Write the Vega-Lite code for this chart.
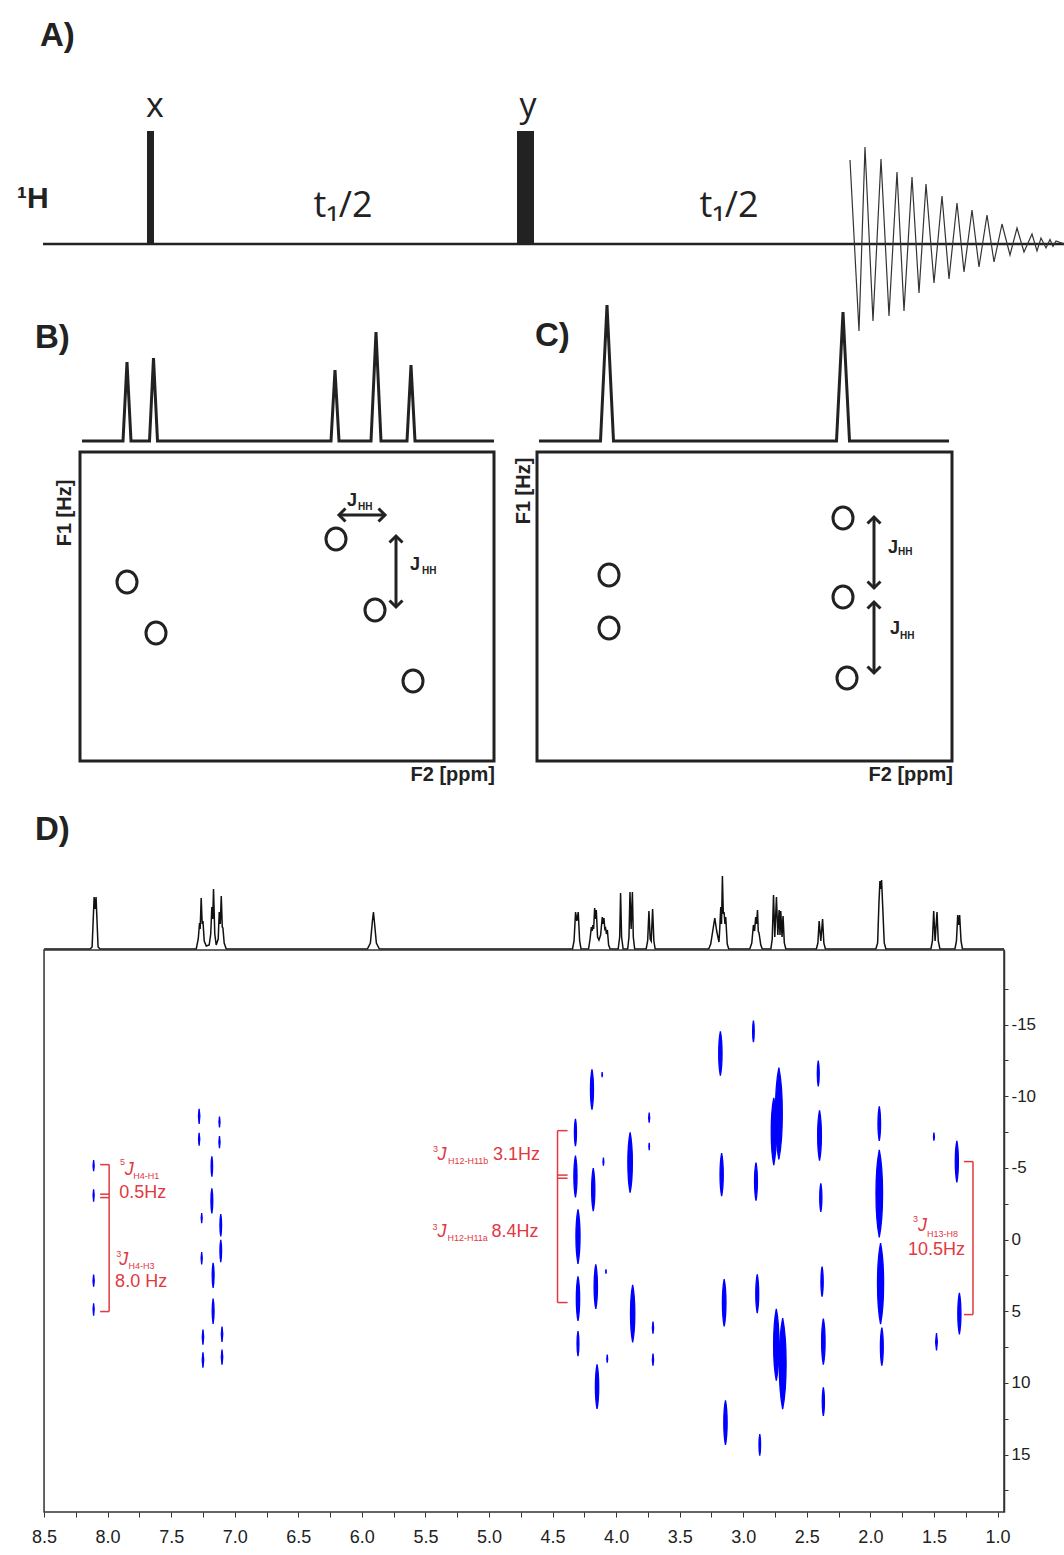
{
"$schema": "https://vega.github.io/schema/vega-lite/v6.json",
"background": "white",
"padding": 0,
"spacing": 0,
"bounds": "flush",
"config": {"view": {"stroke": null}, "font": "Liberation Sans"},
"datasets": {
"aFid": [{"t":85.0,"a":8.4},{"t":85.9,"a":-8.7},{"t":86.5,"a":9.7},{"t":87.3,"a":-7.7},{"t":88.1,"a":8.5},{"t":88.9,"a":-7.2},{"t":89.7,"a":7.2},{"t":90.4,"a":-6.7},{"t":91.2,"a":6.7},{"t":91.9,"a":-4.9},{"t":92.6,"a":6.0},{"t":93.4,"a":-3.9},{"t":94.2,"a":4.8},{"t":94.9,"a":-3.5},{"t":95.7,"a":4.1},{"t":96.4,"a":-2.8},{"t":97.2,"a":3.4},{"t":97.9,"a":-2.3},{"t":98.7,"a":2.9},{"t":99.4,"a":-1.8},{"t":100.2,"a":2.0},{"t":101.0,"a":-1.1},{"t":101.7,"a":1.6},{"t":102.4,"a":-0.8},{"t":103.2,"a":1.0},{"t":103.7,"a":-0.7},{"t":104.1,"a":0.6},{"t":104.6,"a":-0.4},{"t":105.0,"a":0.45},{"t":105.3,"a":-0.24},{"t":105.6,"a":0.3},{"t":106.4,"a":0}],
"bcSpec": [{"u":8.2,"v":35.9,"p":"B"},{"u":12.3,"v":35.9,"p":"B"},{"u":12.7,"v":43.8,"p":"B"},{"u":13.1,"v":35.9,"p":"B"},{"u":14.95,"v":35.9,"p":"B"},{"u":15.35,"v":44.2,"p":"B"},{"u":15.75,"v":35.9,"p":"B"},{"u":33.1,"v":35.9,"p":"B"},{"u":33.5,"v":43.0,"p":"B"},{"u":33.9,"v":35.9,"p":"B"},{"u":37.1,"v":35.9,"p":"B"},{"u":37.6,"v":46.8,"p":"B"},{"u":38.1,"v":35.9,"p":"B"},{"u":40.7,"v":35.9,"p":"B"},{"u":41.1,"v":43.5,"p":"B"},{"u":41.5,"v":35.9,"p":"B"},{"u":49.4,"v":35.9,"p":"B"},
{"u":53.9,"v":35.9,"p":"C"},{"u":60.05,"v":35.9,"p":"C"},{"u":60.7,"v":49.5,"p":"C"},{"u":61.35,"v":35.9,"p":"C"},{"u":83.65,"v":35.9,"p":"C"},{"u":84.3,"v":48.8,"p":"C"},{"u":84.95,"v":35.9,"p":"C"},{"u":94.9,"v":35.9,"p":"C"}],
"dSpec": [{"ppm":8.5,"i":0},{"ppm":8.138,"i":0},{"ppm":8.122,"i":2},{"ppm":8.106,"i":52},{"ppm":8.098,"i":40},{"ppm":8.091,"i":52},{"ppm":8.075,"i":2},{"ppm":8.059,"i":0},{"ppm":7.303,"i":0},{"ppm":7.287,"i":10},{"ppm":7.277,"i":26},{"ppm":7.272,"i":20},{"ppm":7.264,"i":51},{"ppm":7.256,"i":25},{"ppm":7.25,"i":28},{"ppm":7.24,"i":8},{"ppm":7.224,"i":3},{"ppm":7.201,"i":4},{"ppm":7.189,"i":15},{"ppm":7.18,"i":42},{"ppm":7.173,"i":30},{"ppm":7.167,"i":60},{"ppm":7.157,"i":15},{"ppm":7.146,"i":4},{"ppm":7.13,"i":10},{"ppm":7.122,"i":37},{"ppm":7.114,"i":25},{"ppm":7.106,"i":53},{"ppm":7.098,"i":22},{"ppm":7.093,"i":21},{"ppm":7.083,"i":6},{"ppm":7.067,"i":0},{"ppm":5.957,"i":0},{"ppm":5.933,"i":6},{"ppm":5.917,"i":28},{"ppm":5.909,"i":37},{"ppm":5.902,"i":28},{"ppm":5.886,"i":6},{"ppm":5.862,"i":0},{"ppm":4.343,"i":0},{"ppm":4.331,"i":8},{"ppm":4.319,"i":37},{"ppm":4.309,"i":28},{"ppm":4.298,"i":37},{"ppm":4.287,"i":8},{"ppm":4.276,"i":0},{"ppm":4.217,"i":0},{"ppm":4.205,"i":10},{"ppm":4.195,"i":22},{"ppm":4.189,"i":18},{"ppm":4.183,"i":24},{"ppm":4.177,"i":20},{"ppm":4.169,"i":41},{"ppm":4.163,"i":30},{"ppm":4.156,"i":39},{"ppm":4.146,"i":12},{"ppm":4.135,"i":9},{"ppm":4.122,"i":14},{"ppm":4.109,"i":32},{"ppm":4.102,"i":25},{"ppm":4.096,"i":31},{"ppm":4.089,"i":20},{"ppm":4.083,"i":21},{"ppm":4.076,"i":15},{"ppm":4.069,"i":19},{"ppm":4.059,"i":4},{"ppm":4.047,"i":0},{"ppm":3.984,"i":0},{"ppm":3.972,"i":12},{"ppm":3.965,"i":56},{"ppm":3.957,"i":12},{"ppm":3.945,"i":0},{"ppm":3.909,"i":0},{"ppm":3.899,"i":12},{"ppm":3.891,"i":57},{"ppm":3.882,"i":20},{"ppm":3.872,"i":57},{"ppm":3.865,"i":12},{"ppm":3.854,"i":0},{"ppm":3.764,"i":0},{"ppm":3.752,"i":8},{"ppm":3.742,"i":38},{"ppm":3.732,"i":10},{"ppm":3.724,"i":8},{"ppm":3.713,"i":40},{"ppm":3.703,"i":8},{"ppm":3.693,"i":0},{"ppm":3.272,"i":0},{"ppm":3.256,"i":5},{"ppm":3.24,"i":18},{"ppm":3.224,"i":31},{"ppm":3.209,"i":18},{"ppm":3.191,"i":7},{"ppm":3.185,"i":20},{"ppm":3.177,"i":42},{"ppm":3.171,"i":25},{"ppm":3.164,"i":73},{"ppm":3.157,"i":35},{"ppm":3.151,"i":37},{"ppm":3.144,"i":25},{"ppm":3.138,"i":32},{"ppm":3.126,"i":5},{"ppm":3.114,"i":0},{"ppm":2.949,"i":0},{"ppm":2.933,"i":6},{"ppm":2.92,"i":24},{"ppm":2.911,"i":18},{"ppm":2.902,"i":32},{"ppm":2.895,"i":25},{"ppm":2.888,"i":39},{"ppm":2.882,"i":18},{"ppm":2.876,"i":16},{"ppm":2.862,"i":4},{"ppm":2.85,"i":0},{"ppm":2.783,"i":0},{"ppm":2.772,"i":10},{"ppm":2.762,"i":54},{"ppm":2.752,"i":12},{"ppm":2.739,"i":52},{"ppm":2.728,"i":14},{"ppm":2.718,"i":39},{"ppm":2.711,"i":14},{"ppm":2.705,"i":38},{"ppm":2.695,"i":12},{"ppm":2.687,"i":33},{"ppm":2.677,"i":6},{"ppm":2.665,"i":0},{"ppm":2.425,"i":0},{"ppm":2.413,"i":6},{"ppm":2.403,"i":28},{"ppm":2.39,"i":8},{"ppm":2.376,"i":30},{"ppm":2.366,"i":6},{"ppm":2.354,"i":0},{"ppm":1.957,"i":0},{"ppm":1.943,"i":6},{"ppm":1.933,"i":45},{"ppm":1.925,"i":68},{"ppm":1.919,"i":60},{"ppm":1.912,"i":69},{"ppm":1.904,"i":45},{"ppm":1.891,"i":6},{"ppm":1.878,"i":0},{"ppm":1.524,"i":0},{"ppm":1.512,"i":8},{"ppm":1.502,"i":38},{"ppm":1.491,"i":8},{"ppm":1.476,"i":37},{"ppm":1.466,"i":8},{"ppm":1.453,"i":0},{"ppm":1.335,"i":0},{"ppm":1.323,"i":8},{"ppm":1.313,"i":34},{"ppm":1.306,"i":24},{"ppm":1.298,"i":34},{"ppm":1.287,"i":8},{"ppm":1.276,"i":0},{"ppm":0.949,"i":0}],
"dPeaks": [{"ppm":8.11,"hz":-5.16,"len":0.75},{"ppm":8.11,"hz":-3.07,"len":0.85},{"ppm":8.11,"hz":2.86,"len":0.85},{"ppm":8.11,"hz":4.88,"len":0.85},
{"ppm":7.28,"hz":-8.6,"len":1.05},{"ppm":7.28,"hz":-7.0,"len":0.9},{"ppm":7.12,"hz":-8.2,"len":0.75},{"ppm":7.12,"hz":-6.8,"len":0.85},{"ppm":7.18,"hz":-5.1,"len":1.4},{"ppm":7.18,"hz":-2.7,"len":1.75},{"ppm":7.26,"hz":-1.5,"len":0.7},{"ppm":7.11,"hz":-1.0,"len":1.55},{"ppm":7.11,"hz":0.8,"len":1.55},{"ppm":7.26,"hz":1.3,"len":0.85},{"ppm":7.17,"hz":2.5,"len":1.75},{"ppm":7.17,"hz":5.0,"len":1.75},{"ppm":7.25,"hz":6.8,"len":1.05},{"ppm":7.25,"hz":8.4,"len":1.05},{"ppm":7.1,"hz":6.6,"len":1.05},{"ppm":7.1,"hz":8.2,"len":1.05},
{"ppm":4.32,"hz":-7.47,"len":1.9},{"ppm":4.32,"hz":-4.4,"len":2.9},{"ppm":4.3,"hz":-0.21,"len":3.8},{"ppm":4.3,"hz":4.12,"len":3.1},{"ppm":4.3,"hz":7.26,"len":1.75},{"ppm":4.19,"hz":-10.47,"len":2.8},{"ppm":4.18,"hz":-3.49,"len":3.0},{"ppm":4.16,"hz":3.28,"len":3.1},{"ppm":4.15,"hz":10.26,"len":3.1},{"ppm":4.11,"hz":-11.51,"len":0.35},{"ppm":4.1,"hz":-5.44,"len":0.55},{"ppm":4.08,"hz":2.23,"len":0.3},{"ppm":4.07,"hz":8.3,"len":0.55},{"ppm":3.89,"hz":-5.37,"len":4.2},{"ppm":3.87,"hz":5.16,"len":4.0},{"ppm":3.74,"hz":-8.51,"len":0.7},{"ppm":3.74,"hz":-6.49,"len":0.5},{"ppm":3.71,"hz":6.14,"len":0.85},{"ppm":3.71,"hz":8.37,"len":0.85},
{"ppm":3.18,"hz":-12.98,"len":3.1},{"ppm":2.92,"hz":-14.52,"len":1.5},{"ppm":2.72,"hz":-8.79,"len":6.4},{"ppm":2.76,"hz":-7.54,"len":4.7},{"ppm":2.41,"hz":-11.58,"len":1.8},{"ppm":2.4,"hz":-7.26,"len":3.5},{"ppm":3.17,"hz":-4.54,"len":3.0},{"ppm":2.9,"hz":-4.05,"len":2.65},{"ppm":2.39,"hz":-2.93,"len":2.0},{"ppm":1.93,"hz":-8.09,"len":2.4},{"ppm":1.93,"hz":-3.21,"len":6.1},{"ppm":1.92,"hz":3.07,"len":5.65},{"ppm":1.91,"hz":7.47,"len":2.65},{"ppm":1.5,"hz":-7.19,"len":0.56},{"ppm":1.32,"hz":-5.44,"len":2.9},{"ppm":1.3,"hz":5.16,"len":2.9},{"ppm":1.48,"hz":7.12,"len":1.2},{"ppm":3.15,"hz":4.4,"len":3.3},{"ppm":2.89,"hz":3.77,"len":2.7},{"ppm":2.38,"hz":2.93,"len":2.1},{"ppm":2.74,"hz":7.33,"len":5.0},{"ppm":2.69,"hz":8.65,"len":6.35},{"ppm":2.37,"hz":7.12,"len":3.2},{"ppm":2.37,"hz":11.3,"len":2.0},{"ppm":3.14,"hz":12.77,"len":3.1},{"ppm":2.87,"hz":14.31,"len":1.5}],
"dBr": [{"ppm":7.988,"ppm2":7.988,"hz":-5.23,"hz2":5.02},{"ppm":8.059,"ppm2":7.988,"hz":-5.23,"hz2":-5.23},{"ppm":8.059,"ppm2":7.988,"hz":-3.17,"hz2":-3.17},{"ppm":8.059,"ppm2":7.988,"hz":-2.93,"hz2":-2.93},{"ppm":8.059,"ppm2":7.988,"hz":5.02,"hz2":5.02},
{"ppm":4.461,"ppm2":4.461,"hz":-7.6,"hz2":4.39},{"ppm":4.461,"ppm2":4.382,"hz":-7.6,"hz2":-7.6},{"ppm":4.461,"ppm2":4.382,"hz":-4.5,"hz2":-4.5},{"ppm":4.461,"ppm2":4.382,"hz":-4.28,"hz2":-4.28},{"ppm":4.461,"ppm2":4.382,"hz":4.39,"hz2":4.39},
{"ppm":1.193,"ppm2":1.193,"hz":-5.44,"hz2":5.23},{"ppm":1.264,"ppm2":1.193,"hz":-5.44,"hz2":-5.44},{"ppm":1.264,"ppm2":1.193,"hz":5.23,"hz2":5.23}],
"dSup": [{"ppm":7.902,"hz":-5.44,"label":"5"},{"ppm":7.933,"hz":0.98,"label":"3"},{"ppm":5.441,"hz":-6.35,"label":"3"},{"ppm":5.445,"hz":-0.91,"label":"3"},{"ppm":1.665,"hz":-1.46,"label":"3"}],
"dJ": [{"ppm":7.866,"hz":-4.88,"label":"J"},{"ppm":7.909,"hz":1.39,"label":"J"},{"ppm":5.406,"hz":-5.93,"label":"J"},{"ppm":5.406,"hz":-0.56,"label":"J"},{"ppm":1.626,"hz":-0.98,"label":"J"}],
"dSub": [{"ppm":7.799,"hz":-4.46,"label":"H4-H1"},{"ppm":7.835,"hz":1.81,"label":"H4-H3"},{"ppm":5.323,"hz":-5.51,"label":"H12-H11b"},{"ppm":5.327,"hz":-0.14,"label":"H12-H11a"},{"ppm":1.555,"hz":-0.42,"label":"H13-H8"}],
"dVal": [{"ppm":7.909,"hz":-3.28,"label":"0.5Hz"},{"ppm":7.941,"hz":2.93,"label":"8.0 Hz"},{"ppm":4.969,"hz":-5.93,"label":"3.1Hz"},{"ppm":4.98,"hz":-0.56,"label":"8.4Hz"},{"ppm":1.705,"hz":0.7,"label":"10.5Hz"}]
},
"vconcat": [
{
"width": 1064, "height": 340,
"encoding": {
"x": {"field": "t", "type": "quantitative", "scale": {"domain": [0, 106.4], "nice": false, "zero": false}, "axis": null},
"y": {"field": "a", "type": "quantitative", "scale": {"domain": [-9.6, 24.4], "nice": false, "zero": false}, "axis": null}
},
"layer": [
{"data": {"values": [{"t": 4.3, "t2": 106.4, "a": 0}]}, "mark": {"type": "rule", "color": "#222", "strokeWidth": 2.5}, "encoding": {"x2": {"field": "t2"}}},
{"data": {"values": [{"t": 14.7, "t2": 15.4, "a": 0, "a2": 11.3}, {"t": 51.7, "t2": 53.4, "a": 0, "a2": 11.3}]}, "mark": {"type": "rect", "color": "#222"}, "encoding": {"x2": {"field": "t2"}, "y2": {"field": "a2"}}},
{"data": {"name": "aFid"}, "mark": {"type": "line", "color": "#333", "strokeWidth": 1.2}, "encoding": {}},
{"data": {"values": [{"t": 4.0, "a": 19.8, "label": "A)"}]}, "mark": {"type": "text", "align": "left", "baseline": "alphabetic", "fontSize": 33, "fontWeight": "bold", "color": "#222"}, "encoding": {"text": {"field": "label"}}},
{"data": {"values": [{"t": 15.5, "a": 12.7, "label": "x"}, {"t": 52.8, "a": 12.7, "label": "y"}]}, "mark": {"type": "text", "align": "center", "baseline": "alphabetic", "fontSize": 34, "font": "Open Sans", "color": "#222"}, "encoding": {"text": {"field": "label"}}},
{"data": {"values": [{"t": 1.7, "a": 3.6, "label": "¹H"}]}, "mark": {"type": "text", "align": "left", "baseline": "alphabetic", "fontSize": 30, "fontWeight": "bold", "color": "#222"}, "encoding": {"text": {"field": "label"}}},
{"data": {"values": [{"t": 34.3, "a": 2.7, "label": "t₁/2"}, {"t": 72.9, "a": 2.7, "label": "t₁/2"}]}, "mark": {"type": "text", "align": "center", "baseline": "alphabetic", "fontSize": 36, "font": "Open Sans, Noto Sans, DejaVu Sans", "color": "#222"}, "encoding": {"text": {"field": "label"}}}
]
},
{
"width": 1064, "height": 460,
"encoding": {
"x": {"field": "u", "type": "quantitative", "scale": {"domain": [0, 106.4], "nice": false, "zero": false}, "axis": null},
"y": {"field": "v", "type": "quantitative", "scale": {"domain": [0, 46], "nice": false, "zero": false}, "axis": null}
},
"layer": [
{"data": {"name": "bcSpec"}, "mark": {"type": "line", "color": "#222", "strokeWidth": 3}, "encoding": {"detail": {"field": "p"}}},
{"data": {"values": [{"u": 8.0, "u2": 49.4, "v": 3.9, "v2": 34.8}, {"u": 53.7, "u2": 95.2, "v": 3.9, "v2": 34.8}]}, "mark": {"type": "rect", "fill": null, "fillOpacity": 0, "stroke": "#222", "strokeWidth": 3}, "encoding": {"x2": {"field": "u2"}, "y2": {"field": "v2"}}},
{"data": {"values": [{"u": 12.7, "v": 21.8}, {"u": 15.6, "v": 16.7}, {"u": 33.6, "v": 26.1}, {"u": 37.5, "v": 19.0}, {"u": 41.3, "v": 11.9}, {"u": 60.9, "v": 22.5}, {"u": 60.9, "v": 17.2}, {"u": 84.3, "v": 28.2}, {"u": 84.3, "v": 20.3}, {"u": 84.7, "v": 12.2}]}, "mark": {"type": "point", "shape": "M0,-1A0.91,1 0 1,1 0,1A0.91,1 0 1,1 0,-1Z", "filled": false, "size": 484, "stroke": "#222", "strokeWidth": 3, "opacity": 1}},
{"data": {"values": [{"u": 33.9, "u2": 38.5, "v": 28.5, "v2": 28.5}, {"u": 39.6, "u2": 39.6, "v": 26.4, "v2": 19.3}, {"u": 87.4, "u2": 87.4, "v": 28.3, "v2": 21.2}, {"u": 87.4, "u2": 87.4, "v": 19.8, "v2": 12.7}]}, "mark": {"type": "rule", "color": "#222", "strokeWidth": 3}, "encoding": {"x2": {"field": "u2"}, "y2": {"field": "v2"}}},
{"data": {"values": [{"u": 33.9, "v": 28.5, "dir": "left"}, {"u": 38.5, "v": 28.5, "dir": "right"}, {"u": 39.6, "v": 26.4, "dir": "up"}, {"u": 39.6, "v": 19.3, "dir": "down"}, {"u": 87.4, "v": 28.3, "dir": "up"}, {"u": 87.4, "v": 21.2, "dir": "down"}, {"u": 87.4, "v": 19.8, "dir": "up"}, {"u": 87.4, "v": 12.7, "dir": "down"}]}, "mark": {"type": "point", "filled": false, "size": 169, "stroke": "#222", "strokeWidth": 3, "opacity": 1, "strokeJoin": "miter"}, "encoding": {"shape": {"field": "dir", "type": "nominal", "scale": {"domain": ["left", "right", "up", "down"], "range": ["M1,-1L0,0L1,1", "M-1,-1L0,0L-1,1", "M-1,1L0,0L1,1", "M-1,-1L0,0L1,-1"]}, "legend": null}}},
{"data": {"values": [{"u": 34.7, "v": 29.9, "label": "J"}, {"u": 41.0, "v": 23.5, "label": "J"}, {"u": 88.8, "v": 25.2, "label": "J"}, {"u": 89.0, "v": 17.1, "label": "J"}]}, "mark": {"type": "text", "align": "left", "baseline": "middle", "fontSize": 18, "fontWeight": "bold", "color": "#222"}, "encoding": {"text": {"field": "label"}}},
{"data": {"values": [{"u": 35.8, "v": 29.3, "label": "HH"}, {"u": 42.2, "v": 22.9, "label": "HH"}, {"u": 89.8, "v": 24.8, "label": "HH"}, {"u": 90.0, "v": 16.4, "label": "HH"}]}, "mark": {"type": "text", "align": "left", "baseline": "middle", "fontSize": 10, "fontWeight": "bold", "color": "#222"}, "encoding": {"text": {"field": "label"}}},
{"data": {"values": [{"u": 3.5, "v": 45.2, "label": "B)"}, {"u": 53.5, "v": 45.4, "label": "C)"}]}, "mark": {"type": "text", "align": "left", "baseline": "alphabetic", "fontSize": 33, "fontWeight": "bold", "color": "#222"}, "encoding": {"text": {"field": "label"}}},
{"data": {"values": [{"u": 6.5, "v": 28.7, "label": "F1 [Hz]"}, {"u": 52.4, "v": 30.9, "label": "F1 [Hz]"}]}, "mark": {"type": "text", "align": "center", "baseline": "middle", "angle": 270, "fontSize": 20, "fontWeight": "bold", "color": "#222"}, "encoding": {"text": {"field": "label"}}},
{"data": {"values": [{"u": 49.5, "v": 2.5, "label": "F2 [ppm]"}, {"u": 95.3, "v": 2.5, "label": "F2 [ppm]"}]}, "mark": {"type": "text", "align": "right", "baseline": "middle", "fontSize": 20, "fontWeight": "bold", "color": "#222"}, "encoding": {"text": {"field": "label"}}}
]
},
{
"width": 1004, "height": 150,
"encoding": {
"x": {"field": "ppm", "type": "quantitative", "scale": {"domain": [0.949, 8.8465], "reverse": true, "nice": false, "zero": false}, "axis": null},
"y": {"field": "i", "type": "quantitative", "scale": {"domain": [-1, 149], "nice": false, "zero": false}, "axis": null}
},
"layer": [
{"data": {"name": "dSpec"}, "mark": {"type": "line", "color": "#111", "strokeWidth": 1.5}, "encoding": {}},
{"data": {"values": [{"ppm": 8.571, "i": 109, "label": "D)"}]}, "mark": {"type": "text", "align": "left", "baseline": "alphabetic", "fontSize": 33, "fontWeight": "bold", "color": "#222"}, "encoding": {"text": {"field": "label"}}}
]
},
{
"width": 1004, "height": 562,
"encoding": {
"x": {"field": "ppm", "type": "quantitative", "scale": {"domain": [0.949, 8.8465], "reverse": true, "nice": false, "zero": false},
"axis": {"title": null, "domain": false, "values": [8.5, 8.25, 8, 7.75, 7.5, 7.25, 7, 6.75, 6.5, 6.25, 6, 5.75, 5.5, 5.25, 5, 4.75, 4.5, 4.25, 4, 3.75, 3.5, 3.25, 3, 2.75, 2.5, 2.25, 2, 1.75, 1.5, 1.25, 1], "labelExpr": "datum.value % 0.5 == 0 ? format(datum.value, '.1f') : ''", "labelFlush": false, "labelOverlap": false, "grid": false, "tickSize": 5, "tickColor": "#333", "labelFontSize": 18, "labelColor": "#222", "labelFont": "Liberation Sans", "labelPadding": 11}},
"y": {"field": "hz", "type": "quantitative", "scale": {"domain": [-20.2, 19.0], "reverse": true, "nice": false, "zero": false},
"axis": {"title": null, "orient": "right", "values": [-17.5, -15, -12.5, -10, -7.5, -5, -2.5, 0, 2.5, 5, 7.5, 10, 12.5, 15, 17.5], "labelExpr": "datum.value % 5 == 0 ? '' + datum.value : ''", "labelOverlap": false, "labelFlush": false, "grid": false, "tickSize": 4, "tickColor": "#333", "domainColor": "#333", "domainWidth": 1.5, "labelFontSize": 17, "labelColor": "#222", "labelFont": "Liberation Sans", "labelPadding": 3}}
},
"layer": [
{"data": {"values": [{"ppm": 8.5, "ppm2": 0.949, "hz": -20.2, "hz2": 19.0}]}, "mark": {"type": "rect", "fill": null, "fillOpacity": 0, "stroke": "#333", "strokeWidth": 1.5}, "encoding": {"x2": {"field": "ppm2"}, "y2": {"field": "hz2"}}},
{"data": {"name": "dPeaks"}, "mark": {"type": "point", "shape": "M0,-1C0.1,-0.5 0.1,0.5 0,1C-0.1,0.5 -0.1,-0.5 0,-1Z", "filled": true, "color": "#0000ff", "stroke": "#0000ff", "strokeWidth": 1.3, "opacity": 1},
 "encoding": {"size": {"field": "len", "type": "quantitative", "scale": {"type": "pow", "exponent": 2, "domain": [0, 10], "range": [0, 20564]}, "legend": null}}},
{"data": {"name": "dBr"}, "mark": {"type": "rule", "color": "#e2383f", "strokeWidth": 1.5}, "encoding": {"x2": {"field": "ppm2"}, "y2": {"field": "hz2"}}},
{"data": {"name": "dSup"}, "mark": {"type": "text", "align": "left", "baseline": "middle", "fontSize": 9, "color": "#e2383f"}, "encoding": {"text": {"field": "label"}}},
{"data": {"name": "dJ"}, "mark": {"type": "text", "align": "left", "baseline": "middle", "fontSize": 18, "fontStyle": "italic", "color": "#e2383f"}, "encoding": {"text": {"field": "label"}}},
{"data": {"name": "dSub"}, "mark": {"type": "text", "align": "left", "baseline": "middle", "fontSize": 9, "color": "#e2383f"}, "encoding": {"text": {"field": "label"}}},
{"data": {"name": "dVal"}, "mark": {"type": "text", "align": "left", "baseline": "middle", "fontSize": 18, "color": "#e2383f"}, "encoding": {"text": {"field": "label"}}}
]
}
]
}
